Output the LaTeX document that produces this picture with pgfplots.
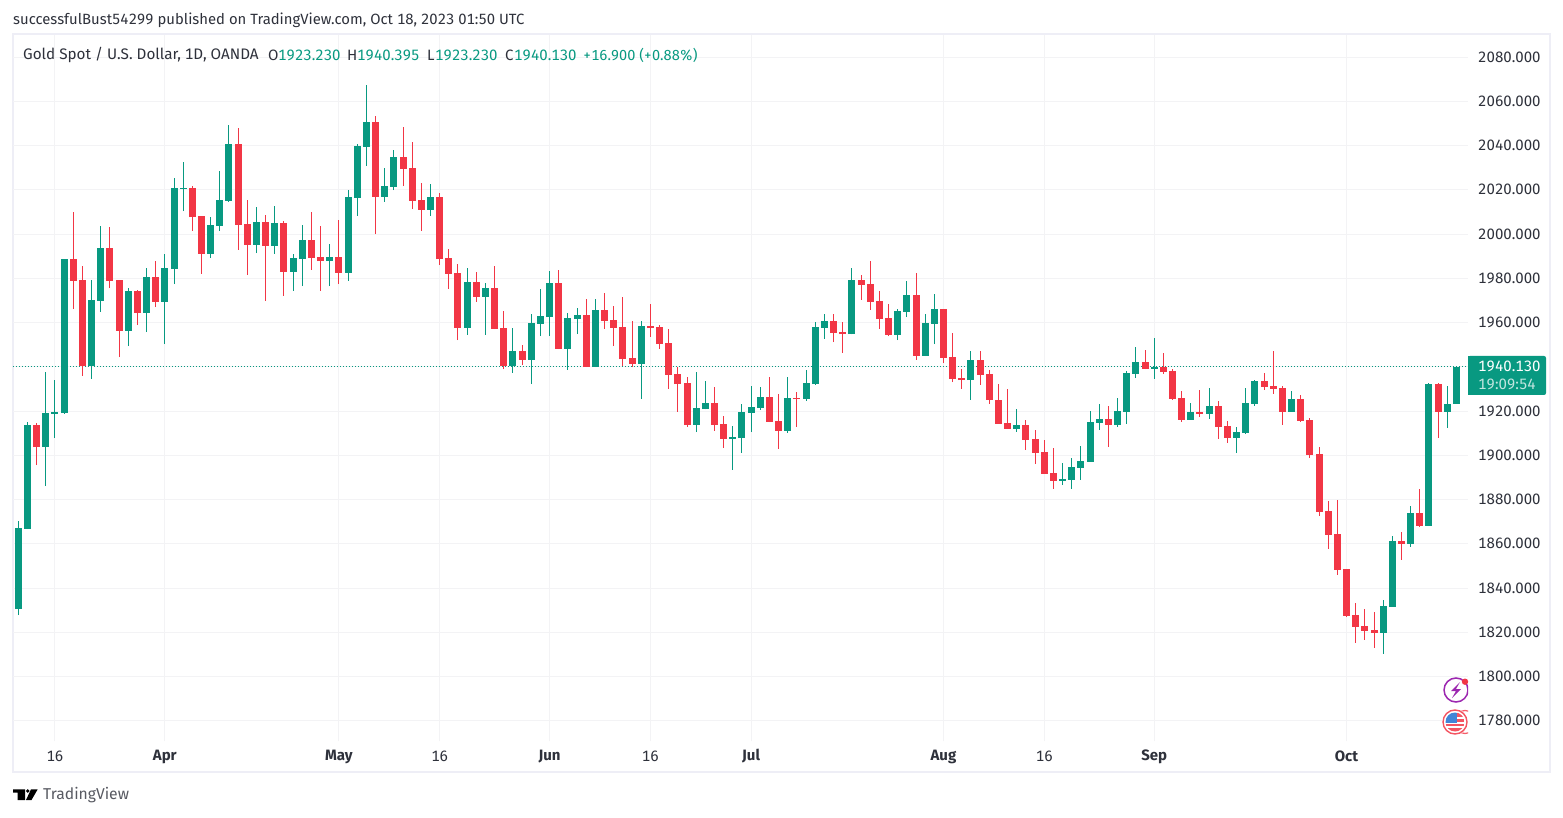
\documentclass[border=0pt]{standalone}
\usepackage{fontspec}
\setmainfont[Numbers={Lining,Monospaced}]{Fira Sans}
\usepackage{pgfplots}
\usepackage{pgfplotstable}
\pgfplotsset{compat=1.18}

\definecolor{upc}{HTML}{089981}
\definecolor{downc}{HTML}{F23645}
\definecolor{gridc}{HTML}{F3F3F5}
\definecolor{framec}{HTML}{EEEEF6}
\definecolor{txt}{HTML}{2E313B}
\definecolor{badge}{HTML}{9C27B0}
\definecolor{flagblue}{HTML}{4285D6}

% i open close high low
\pgfplotstableread{
i o c h l
0 1830.5 1867.1 1870.3 1827.8
1 1866.7 1913.7 1915.0 1866.6
3 1903.75 1919.1 1937.6 1886.1
4 1918.7 1919.5 1934.0 1907.8
5 1919.1 1988.7 1988.8 1918.7
8 1940.4 1970.2 1979.25 1934.5
9 1969.8 1993.7 2003.7 1964.8
12 1956.2 1974.3 1975.6 1949.4
14 1964.3 1980.6 1984.7 1955.7
16 1969.3 1984.7 1991 1950.3
17 1984.2 2020.8 2025.3 1977.4
18 2020.4 2020.9 2032.6 2010.4
21 1991 2004.1 2007.7 1989.2
22 2003.7 2015.4 2028.5 2001.4
23 2015 2040.7 2049.3 2014.5
26 1995.1 2005.5 2012.2 1991.4
28 1994.6 2005 2012.7 1991
30 1982.9 1989.2 1991 1974.3
31 1988.7 1997.3 2004.1 1976.5
34 1987.8 1989.6 1995.5 1976.5
36 1982.4 2016.8 2019.9 1978.8
37 2016.3 2039.8 2040.7 2008.2
38 2039.4 2050.7 2067.4 2030.8
40 2016.8 2021.7 2029.9 2014.5
41 2021.3 2034.8 2038 2019.9
45 2010.9 2016.8 2022.6 2008.2
49 1957.6 1978.3 1984.7 1954.4
51 1971.6 1975.6 1977.9 1954.4
54 1940.4 1947.2 1957.6 1937.2
56 1943.1 1959.8 1963.9 1932.2
57 1959.4 1963 1975.2 1953.9
58 1962.5 1977.9 1983.3 1953.9
60 1948.1 1962.1 1964.3 1938.6
61 1961.6 1963.4 1966.6 1954.8
63 1939.9 1965.7 1970.7 1939.8
68 1941.3 1958.5 1960.7 1925.5
74 1913.7 1921.4 1937.7 1910.5
75 1920.9 1923.7 1933.6 1920.8
78 1907.4 1908.3 1913.3 1893.4
79 1907.8 1919.6 1923.2 1901.1
80 1919.1 1921.8 1931.3 1910.5
81 1921.4 1926.4 1930.9 1920.5
84 1911 1925.9 1935.4 1910.1
86 1925.5 1932.7 1938.6 1924.6
87 1932.2 1958 1960.3 1932
88 1957.6 1960.7 1963.9 1952.6
91 1954.8 1979.2 1984.7 1954.7
96 1954.4 1965.2 1966.1 1952.1
97 1964.8 1972.5 1978.8 1962.5
99 1944.9 1959.8 1963.9 1944.8
100 1959.4 1966.1 1972.9 1950.3
104 1934 1943.1 1947.2 1925
109 1912 1913.8 1921 1910.7
114 1888.5 1889.4 1896.6 1886.7
115 1889 1894.8 1898.9 1884.9
116 1894.4 1897.6 1904.3 1889
117 1897.1 1915.2 1920.2 1897
118 1914.7 1916.5 1923.3 1911.6
120 1913.8 1920.2 1926 1912.9
121 1919.7 1937.3 1938.2 1914.3
122 1936.9 1942.3 1949.1 1935.1
124 1939.1 1940 1953.1 1934.6
128 1916.1 1919.7 1923.8 1916
130 1918.8 1922.4 1930.5 1916.5
133 1907.9 1910.7 1912.9 1901.2
134 1910.2 1923.8 1930.5 1909.8
135 1923.3 1933.7 1934.2 1922.4
139 1919.7 1925.6 1929.2 1919.6
149 1819.8 1832 1834.7 1810.3
150 1831.6 1861.4 1863.7 1831.5
152 1860 1874 1877.2 1858.7
154 1868.2 1932.4 1932.8 1868.1
156 1919.7 1923.23 1931.5 1912.5
157 1923.23 1940.13 1940.395 1923.23
}\upbars

\pgfplotstableread{
i o c h l
2 1913.7 1903.75 1914.6 1895.6
6 1988.7 1978.8 2010 1966.1
7 1979.25 1940.4 1985.6 1935.9
10 1993.7 1978.8 2003.2 1975.6
11 1979.25 1956.2 1979.4 1944.4
13 1974.3 1964.3 1974.7 1958.9
15 1980.6 1969.3 1987.8 1967
19 2020.8 2007.7 2021.7 2001.4
20 2008.2 1991 2008.3 1982
24 2040.7 2004.1 2048 1992.8
25 2004.6 1995.1 2015.4 1981.5
27 2005.5 1994.6 2008.6 1969.8
29 2005 1982.9 2005.9 1972
32 1997.3 1989.2 2010 1983.8
33 1989.6 1987.8 2003.7 1974.3
35 1989.6 1982.4 2006.4 1977.4
39 2050.7 2016.8 2053.4 2000
42 2034.8 2029.4 2048.4 2021.7
43 2029.9 2015 2041.6 2011.3
44 2015.4 2010.9 2023.1 2001.4
46 2016.8 1988.7 2018.6 1986
47 1989.2 1982 1993.3 1975.2
48 1982.4 1957.6 1986.5 1952.1
50 1978.3 1971.6 1982.9 1969.3
52 1975.6 1957.1 1985.6 1957
53 1957.6 1940.4 1965.2 1939
55 1947.2 1943.1 1949.9 1940.8
59 1977.9 1948.1 1983.8 1948
62 1963.4 1939.9 1970.7 1939.8
64 1965.7 1960.7 1973.4 1957.1
65 1961.2 1957.6 1967.5 1949.4
66 1958 1943.5 1971.6 1940.4
67 1944 1941.3 1960.7 1939.9
69 1958.5 1957.6 1968.4 1953.5
70 1958 1950.3 1958.9 1948.1
71 1950.8 1936.3 1957.1 1930
72 1936.8 1932.2 1939.9 1919.6
73 1932.7 1913.7 1935.4 1912.8
76 1923.7 1913.7 1930.9 1911
77 1914.2 1907.4 1917.8 1903.3
82 1926.4 1915.1 1935.4 1915
83 1915.5 1911 1927.7 1902.9
85 1925.9 1925.4 1928.6 1912.8
89 1960.7 1955.3 1963.9 1951.2
90 1955.7 1954.8 1960.3 1946.3
92 1979.2 1977 1981.5 1970.2
93 1977.4 1969.3 1987.8 1965.7
94 1969.8 1961.6 1974.3 1957.1
95 1962.1 1954.4 1968.4 1953.9
98 1972.5 1944.9 1982.4 1943.1
101 1966.1 1944 1966.2 1941.7
102 1944.4 1934.5 1955.3 1933.1
103 1935 1934 1939 1930
105 1943.1 1936.3 1947.2 1931.8
106 1936.8 1925 1938.6 1923.2
107 1925.1 1914.3 1932.4 1914.2
108 1914.7 1912 1930.1 1911.9
110 1913.8 1907 1916.1 1902.5
111 1907.5 1901.2 1911.6 1896.2
112 1901.6 1891.7 1907 1891.6
113 1892.1 1888.5 1903.4 1884.9
119 1916.5 1913.8 1922.4 1903.9
123 1942.3 1939.1 1947.7 1939
125 1940 1937.8 1946.4 1936.9
126 1938.2 1925.6 1939.1 1925.1
127 1926 1916.1 1929.2 1915.2
129 1919.7 1918.8 1929.6 1917.4
131 1922.4 1912.9 1924.7 1907.5
132 1913.4 1907.9 1915.6 1905.7
136 1933.7 1931 1937.3 1929.6
137 1931.5 1930.1 1947.3 1927.8
138 1930.5 1919.7 1931.5 1913.8
140 1925.6 1915.6 1927.4 1915.2
141 1916.1 1900.3 1917 1898.9
142 1900.7 1874.5 1903.9 1872.7
143 1875 1864.1 1879.5 1857.8
144 1864.6 1848.3 1879.9 1846
145 1848.7 1827.5 1848.8 1827
146 1828 1822.5 1833.4 1815.3
147 1823 1820.7 1830.7 1816.7
148 1821.2 1819.8 1829.3 1813
151 1861.4 1860 1865.5 1852.8
153 1874 1868.2 1884.9 1867.7
155 1932.4 1919.7 1932.5 1907.9
}\downbars

\pgfplotsset{
  wick/.style={draw=none, no markers, forget plot,
    error bars/.cd, y dir=plus, y explicit, error mark=none,
    error bar style={line width=1pt, draw=#1}},
  body/.style={draw=none, no markers, forget plot,
    error bars/.cd, y dir=plus, y explicit, error mark=none,
    error bar style={line width=7pt, draw=#1}},
}

\newcommand{\lab}[3]{\node[anchor=west, inner sep=0pt, text=#1] at #2 {#3};}

\begin{document}
\fontsize{15}{16}\selectfont
\begin{tikzpicture}[x=1pt, y=1pt]
  \useasboundingbox (0,0) rectangle (1563,817);
  \fill[white] (0,0) rectangle (1563,817);
  \draw[framec, line width=2pt] (13,45) rectangle (1550,783);

  \begin{axis}[
    at={(13pt,76pt)}, anchor=south west,
    scale only axis, width=1455pt, height=706pt,
    xmin=-0.579, xmax=158.26, ymin=1770.87, ymax=2089.97,
    axis line style={draw=none},
    major tick length=0pt,
    grid=major,
    grid style={gridc, line width=1pt},
    xtick={4,16,35,46,58,69,80,101,112,124,145},
    xticklabels={16,\textbf{Apr},\textbf{May},16,\textbf{Jun},16,\textbf{Jul},\textbf{Aug},16,\textbf{Sep},\textbf{Oct}},
    xticklabel style={anchor=center, inner sep=0pt, yshift=-15.5pt, text=txt},
    ytick={1780,1800,...,2080},
    yticklabel pos=right,
    scaled y ticks=false,
    yticklabel style={anchor=west, inner sep=0pt, xshift=10pt, text=txt,
      /pgf/number format/.cd, fixed, fixed zerofill, precision=3, 1000 sep={}, assume math mode=true},
  ]
  \addplot[upc, line width=1pt, dash pattern=on 1pt off 2pt, forget plot]
    coordinates {(-0.579,1940.13) (158.26,1940.13)};

  \addplot[wick=upc] table[x=i, y=l, y error plus expr=\thisrow{h}-\thisrow{l}] {\upbars};
  \addplot[body=upc] table[x=i, y=o, y error plus expr=\thisrow{c}-\thisrow{o}] {\upbars};
  \addplot[wick=downc] table[x=i, y=l, y error plus expr=\thisrow{h}-\thisrow{l}] {\downbars};
  \addplot[body=downc] table[x=i, y=c, y error plus expr=\thisrow{o}-\thisrow{c}] {\downbars};
  \end{axis}

  % header and legend line
  \lab{txt}{(13,797)}{\fontsize{14.85}{16}\selectfont successfulBust54299 published on TradingView.com, Oct 18, 2023 01:50 UTC}
  \lab{txt}{(23,762)}{\fontsize{15.25}{16}\selectfont Gold Spot / U.S. Dollar, 1D, OANDA}
  \lab{txt}{(268,762)}{O}
  \lab{upc}{(278,762)}{1923.230}
  \lab{txt}{(347,762)}{H}
  \lab{upc}{(357,762)}{1940.395}
  \lab{txt}{(427,762)}{L}
  \lab{upc}{(435,762)}{1923.230}
  \lab{txt}{(505,762)}{C}
  \lab{upc}{(514,762)}{1940.130}
  \lab{upc}{(583,762)}{\fontsize{14.5}{16}\selectfont +16.900 (+0.88\%)}

  % last price tag
  \fill[upc, rounded corners=2pt] (1468,422) rectangle (1546,461);
  \fill[upc] (1468,422) rectangle (1474,461);
  \lab{white}{(1478,450.5)}{1940.130}
  \lab{white!75!upc}{(1478,432.5)}{19:09:54}

  % event badges, cut at the price scale
  \begin{scope}
    \clip (1430,60) rectangle (1468,150);
    \draw[badge, line width=1.5pt] (1456,127) circle (12);
    \fill[badge] (1460,135) -- (1451,126) -- (1456,126) -- (1452,119) -- (1461,128) -- (1456,128) -- cycle;
    \fill[downc] (1465,135.3) circle (3.2);
    \fill[white] (1465,95) circle (12.5);
    \draw[downc!80, line width=1.2pt] (1465,95) circle (11.5);
    \fill[white] (1455,95) circle (13);
    \draw[downc!85, line width=1.4pt] (1455,95) circle (12);
    \begin{scope}
      \clip (1455,95) circle (9.5);
      \fill[white] (1445,85) rectangle (1465,105);
      \fill[downc!85] (1445,85) rectangle (1465,89);
      \fill[downc!85] (1445,91) rectangle (1465,93);
      \fill[downc!85] (1457,95) rectangle (1465,98);
      \fill[downc!85] (1457,100) rectangle (1465,105);
      \fill[flagblue] (1445,94) rectangle (1457,105);
    \end{scope}
  \end{scope}

  % TradingView mark
  \fill[black] (13,27.7) -- (25,27.7) -- (25,17) -- (17.7,17) -- (17.7,24.3) -- (13,24.3) -- cycle;
  \fill[black] (27.7,26) circle (1.9);
  \fill[black] (31,27.7) -- (37.7,27.7) -- (31.5,17) -- (26,17) -- cycle;
  \node[anchor=west, inner sep=0pt, text=txt!80] at (43,21.5) {\fontsize{15.7}{16}\selectfont TradingView};
\end{tikzpicture}
\end{document}
